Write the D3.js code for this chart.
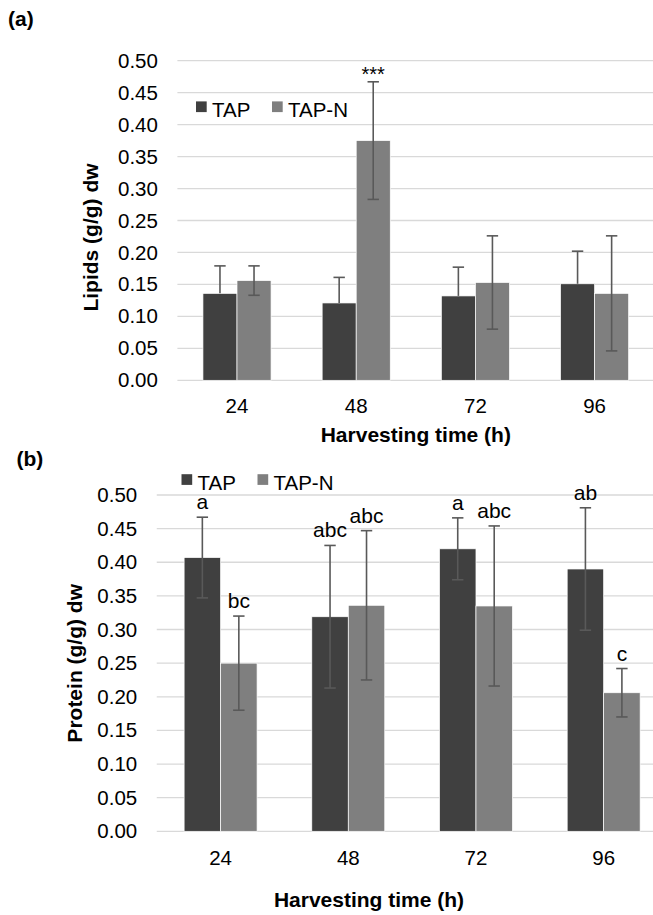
<!DOCTYPE html>
<html>
<head>
<meta charset="utf-8">
<script src="https://cdn.jsdelivr.net/npm/d3@7"></script>
<style>
  body { margin: 0; background: #fff; }
  svg { display: block; font-family: "Liberation Sans", Arial, sans-serif; }
</style>
</head>
<body>
<svg id="fig" width="653" height="915"></svg>
<script>
// Harvesting times (h)
const hours = ["24", "48", "72", "96"];
const seriesNames = ["TAP", "TAP-N"];

// (a) lipid content, g/g dry weight, with standard deviations
const lipidTap = [0.136, 0.121, 0.132, 0.151];
const lipidTapErr = [0.043, 0.040, 0.045, 0.051];
const lipidTapN = [0.156, 0.375, 0.153, 0.136];
const lipidTapNErr = [0.023, 0.092, 0.073, 0.090];
const lipidTapNMarks = ["", "***", "", ""];

// (b) protein content, g/g dry weight, with standard deviations
const proteinTap = [0.407, 0.319, 0.420, 0.390];
const proteinTapErr = [0.060, 0.106, 0.046, 0.091];
const proteinTapN = [0.250, 0.336, 0.335, 0.206];
const proteinTapNErr = [0.070, 0.111, 0.119, 0.036];
const proteinTapLetters = ["a", "abc", "a", "ab"];
const proteinTapNLetters = ["bc", "abc", "abc", "c"];

const yTicks = [0, 0.05, 0.10, 0.15, 0.20, 0.25, 0.30, 0.35, 0.40, 0.45, 0.50];

const colors = { "TAP": "#404040", "TAP-N": "#7f7f7f" };
const errColor = "#595959";
const gridColor = "#d9d9d9";

const svg = d3.select("#fig");
svg.append("rect").attr("width", 653).attr("height", 915).attr("fill", "#fff");

function drawPanel(cfg) {
  const g = svg.append("g");
  const x = d3.scaleBand().domain(hours).range([cfg.left, cfg.right]);
  const y = d3.scaleLinear().domain([0, 0.5]).range([cfg.bottom, cfg.top]);
  const bw = x.bandwidth() / 3.5;

  // horizontal gridlines
  g.append("g").selectAll("line").data(yTicks).join("line")
    .attr("x1", cfg.left).attr("x2", cfg.right)
    .attr("y1", d => y(d)).attr("y2", d => y(d))
    .attr("stroke", gridColor).attr("stroke-width", 1.3);

  // value axis labels
  const ya = g.append("g")
    .attr("transform", `translate(${cfg.left},0)`)
    .call(d3.axisLeft(y).tickValues(yTicks).tickFormat(d3.format(".2f"))
      .tickSize(0).tickPadding(19.5));
  ya.select(".domain").remove();
  ya.selectAll("text").attr("font-size", 20.5).attr("fill", "#000")
    .attr("font-family", "Liberation Sans, Arial, sans-serif");

  // category axis labels
  const xa = g.append("g")
    .attr("transform", `translate(0,${cfg.bottom})`)
    .call(d3.axisBottom(x).tickSize(0).tickPadding(cfg.catPad));
  xa.select(".domain").remove();
  xa.selectAll("text").attr("font-size", 20.5).attr("fill", "#000")
    .attr("font-family", "Liberation Sans, Arial, sans-serif");

  // bars, error bars and annotations for each series
  cfg.series.forEach((s, si) => {
    const rows = hours.map((h, i) => ({
      h, v: s.values[i], e: s.err[i], label: s.labels ? s.labels[i] : ""
    }));
    const bx = d => x(d.h) + x.bandwidth() / 2 + (si === 0 ? -bw : 0);
    const cx = d => bx(d) + bw / 2;

    g.append("g").selectAll("rect").data(rows).join("rect")
      .attr("x", bx).attr("width", bw)
      .attr("y", d => y(d.v)).attr("height", d => y(0) - y(d.v))
      .attr("fill", colors[s.name])
      .attr("stroke", "#ffffff").attr("stroke-width", 0.7);

    const eb = g.append("g").attr("stroke", errColor).attr("stroke-width", 1.6);
    const lowVal = d => s.plusOnly ? d.v : d.v - d.e;
    eb.selectAll("line.stem").data(rows).join("line").attr("class", "stem")
      .attr("x1", cx).attr("x2", cx)
      .attr("y1", d => y(d.v + d.e)).attr("y2", d => y(lowVal(d)));
    eb.selectAll("line.capTop").data(rows).join("line").attr("class", "capTop")
      .attr("x1", d => cx(d) - 5.7).attr("x2", d => cx(d) + 5.7)
      .attr("y1", d => y(d.v + d.e)).attr("y2", d => y(d.v + d.e));
    if (!s.plusOnly) {
      eb.selectAll("line.capBot").data(rows).join("line").attr("class", "capBot")
        .attr("x1", d => cx(d) - 5.7).attr("x2", d => cx(d) + 5.7)
        .attr("y1", d => y(d.v - d.e)).attr("y2", d => y(d.v - d.e));
    }

    if (s.labels) {
      g.append("g").selectAll("text").data(rows.filter(d => d.label)).join("text")
        .attr("x", cx).attr("y", d => y(d.v + d.e) - s.labelGap)
        .attr("text-anchor", "middle")
        .attr("font-size", s.labelSize).attr("fill", "#000")
        .text(d => d.label);
    }
  });

  // legend
  const lg = g.append("g");
  seriesNames.forEach((n, i) => {
    const lx = cfg.legendX[i];
    lg.append("rect").attr("x", lx).attr("y", cfg.legendY - 15.3)
      .attr("width", 10.7).attr("height", 10.7).attr("fill", colors[n]);
    lg.append("text").attr("x", lx + 16).attr("y", cfg.legendY)
      .attr("font-size", 20.5).attr("fill", "#000").text(n);
  });

  // axis titles
  g.append("text").attr("x", cfg.xTitleX).attr("y", cfg.xTitleY)
    .attr("text-anchor", "middle").attr("font-size", 21).attr("font-weight", "bold")
    .attr("fill", "#000").text("Harvesting time (h)");
  g.append("text")
    .attr("transform", `translate(${cfg.yTitleX},${cfg.yTitleY}) rotate(-90)`)
    .attr("text-anchor", "middle").attr("font-size", 21).attr("font-weight", "bold")
    .attr("fill", "#000").text(cfg.yTitle);

  // panel tag
  g.append("text").attr("x", cfg.tagX).attr("y", cfg.tagY)
    .attr("font-size", 21).attr("font-weight", "bold").attr("fill", "#000")
    .text(cfg.tag);
}

drawPanel({
  tag: "(a)", tagX: 8, tagY: 25.5,
  left: 177.4, right: 654.2, top: 60.7, bottom: 380.3, catPad: 18.5,
  legendX: [196, 272], legendY: 116.7,
  xTitleX: 415.8, xTitleY: 441.7,
  yTitle: "Lipids (g/g) dw", yTitleX: 97.5, yTitleY: 237.5,
  series: [
    { name: "TAP", values: lipidTap, err: lipidTapErr, plusOnly: true },
    { name: "TAP-N", values: lipidTapN, err: lipidTapNErr,
      labels: lipidTapNMarks, labelGap: 1, labelSize: 20 }
  ]
});

drawPanel({
  tag: "(b)", tagX: 16.5, tagY: 465.5,
  left: 156.75, right: 667.5, top: 495, bottom: 831.3, catPad: 19,
  legendX: [181.5, 257.5], legendY: 489.5,
  xTitleX: 369, xTitleY: 906.7,
  yTitle: "Protein (g/g) dw", yTitleX: 81.5, yTitleY: 663.3,
  series: [
    { name: "TAP", values: proteinTap, err: proteinTapErr,
      labels: proteinTapLetters, labelGap: 8, labelSize: 21 },
    { name: "TAP-N", values: proteinTapN, err: proteinTapNErr,
      labels: proteinTapNLetters, labelGap: 8, labelSize: 21 }
  ]
});
</script>
</body>
</html>
